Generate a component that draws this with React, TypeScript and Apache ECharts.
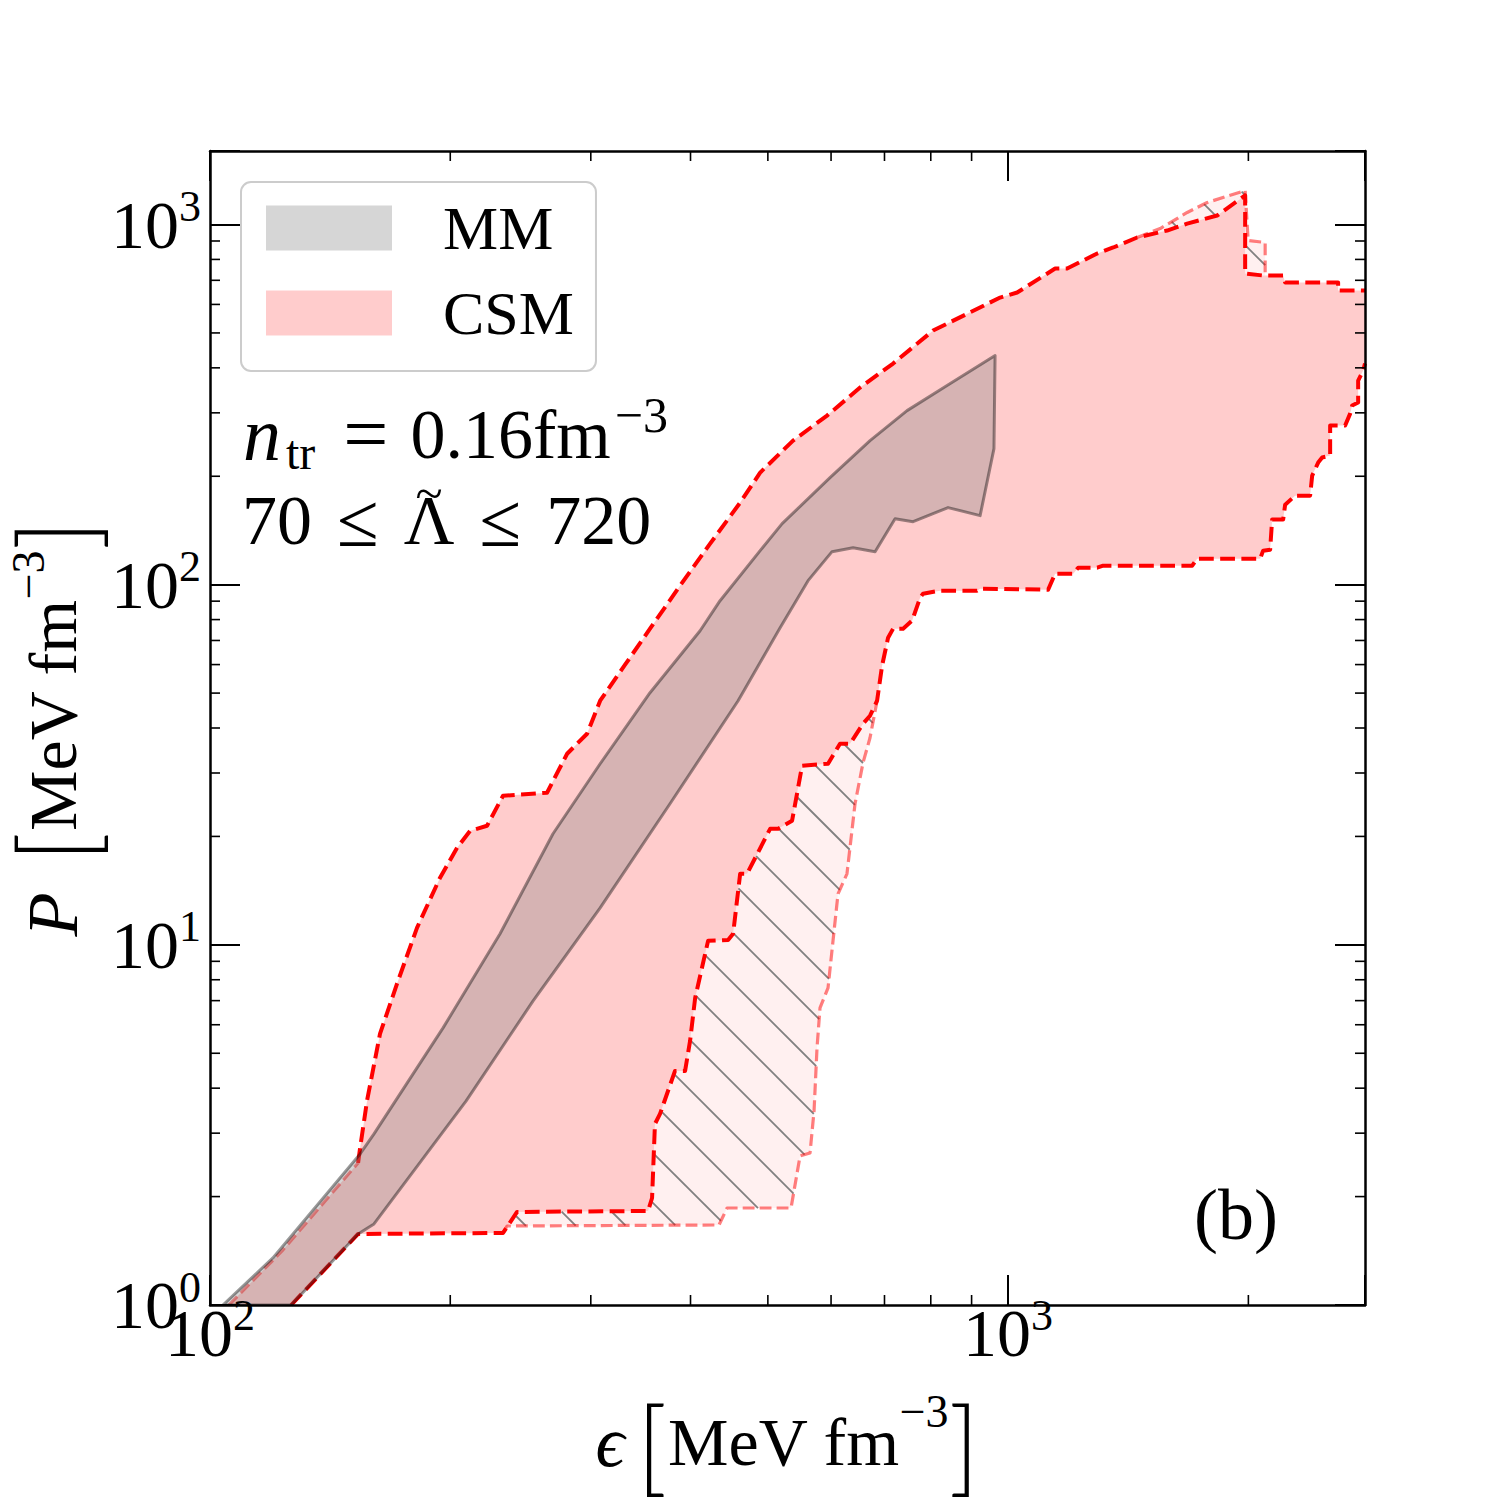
import React, { useEffect, useRef } from "react";
import * as echarts from "echarts";

type Pt = [number, number];

const SERIF = '"Liberation Serif", "Times New Roman", "DejaVu Serif", serif';
const THIN = 'Lato, "Open Sans", sans-serif';

// Axis ranges, energy density and pressure in MeV fm^-3
const EPS_MIN = 100;
const EPS_MAX = 2800;
const P_MIN = 1;
const P_MAX = 1600;

// Minor tick positions (majors come from the log axes themselves)
const minorEps = [200, 300, 400, 500, 600, 700, 800, 900, 2000];
const minorP = [2, 3, 4, 5, 6, 7, 8, 9, 20, 30, 40, 50, 60, 70, 80, 90, 200, 300, 400, 500, 600, 700, 800, 900];

// MM band: upper edge (incl. the closing right edge) and lower edge, [eps, P]
const mmUpper: Pt[] = [
  [103.8, 1.0], [119.9, 1.351], [154.2, 2.627], [160.5, 2.985], [195.9, 5.881],
  [230.9, 10.73], [269.0, 20.34], [308.2, 31.83], [355.9, 50.12], [411.2, 74.5],
  [435.6, 90.27], [489.0, 124.3], [521.0, 147.7], [598.2, 198.3], [671.4, 251.2],
  [747.1, 304.3], [838.5, 357.1], [963.1, 432.7], [960.0, 238.6],
];
const mmLower: Pt[] = [
  [126.4, 1.0], [153.3, 1.575], [160.5, 1.679], [209.4, 3.687], [254.0, 6.989],
  [308.2, 12.67], [377.0, 24.64], [458.9, 47.62], [518.0, 75.95], [561.5, 102.6],
  [601.7, 123.5], [639.3, 126.7], [681.3, 123.5], [721.7, 152.5], [760.2, 149.6],
  [840.9, 163.7], [922.4, 155.5],
];

// CSM band: low-density stretch of the upper edge, main upper edge, lower edge
const csmUpperLow: Pt[] = [[105.6, 1.0], [123.1, 1.413], [139.4, 1.944], [153.3, 2.48]];
const csmUpper: Pt[] = [
  [153.3, 2.48], [154.2, 2.73], [157.3, 3.687], [163.3, 5.658], [171.5, 7.793],
  [181.7, 11.15], [194.2, 15.36], [204.0, 18.6], [211.8, 20.73], [222.4, 21.41],
  [232.9, 25.94], [264.4, 26.44], [280.2, 33.93], [296.8, 38.56], [308.2, 47.62],
  [331.2, 59.95], [355.9, 75.47], [388.1, 99.36], [423.3, 130.0], [461.6, 169.0],
  [489.0, 204.7], [537.7, 251.2], [593.1, 294.7], [652.4, 352.6], [717.6, 411.1],
  [805.4, 507.7], [977.2, 626.9], [1026.4, 647.4], [1145.3, 754.7], [1185.7, 754.7],
  [1292.9, 830.8], [1354.1, 863.4], [1451.0, 920.3], [1581.9, 962.3], [1676.3, 1006],
  [1827.6, 1059], [1981.5, 1204], [1981.5, 730.9], [2087.0, 721.7], [2211.1, 721.7],
  [2223.8, 690.1], [2591.1, 690.1], [2591.1, 655.7], [2800, 655.7],
];
const csmLower: Pt[] = [
  [126.4, 1.0], [153.3, 1.575], [232.9, 1.585], [242.5, 1.813], [353.9, 1.824],
  [358.0, 1.982], [361.0, 3.182], [366.3, 3.392], [382.5, 4.467], [393.8, 4.467],
  [399.5, 5.412], [405.4, 7.124], [420.8, 10.26], [445.8, 10.32], [452.3, 10.73],
  [461.6, 15.75], [470.9, 15.75], [503.3, 21.0], [515.0, 21.0], [536.2, 22.11],
  [551.9, 31.42], [594.8, 31.83], [615.7, 36.16], [633.7, 36.16], [658.0, 41.11],
  [671.4, 43.27], [685.2, 47.62], [695.2, 59.6], [707.3, 71.25], [717.6, 75.47],
  [738.6, 75.47], [758.0, 79.43], [775.8, 92.02], [782.4, 94.41], [821.7, 96.23],
  [914.5, 96.23], [922.4, 97.47], [1122.3, 96.85], [1145.3, 107.3], [1206.6, 107.3],
  [1224.0, 111.5], [1292.9, 111.5], [1315.5, 112.9], [1700.8, 112.9], [1725.3, 118.1],
  [2069.1, 118.1], [2087.0, 124.3], [2129.6, 125.1], [2141.9, 151.6], [2211.1, 151.6],
  [2223.8, 166.8], [2288.8, 176.7], [2389.9, 176.7], [2404.3, 200.9], [2446.2, 218.3],
  [2474.5, 225.4], [2532.1, 228.3], [2532.1, 276.5], [2644.1, 276.5], [2682.6, 298.5],
  [2698.1, 314.3], [2745.2, 320.4], [2745.2, 368.7], [2785.2, 393.0], [2800, 411.1],
];

// Wider (hatched) band: the stretches where its edges leave the CSM edges
const looseLower: Pt[] = [
  [232.9, 1.585], [235.6, 1.657], [434.3, 1.668], [444.5, 1.859], [534.6, 1.859],
  [548.7, 2.594], [564.7, 2.644], [571.3, 3.458], [576.2, 5.174], [581.2, 6.683],
  [594.8, 7.596], [603.4, 10.26], [612.2, 13.86], [628.2, 15.75], [643.0, 24.64],
  [658.0, 32.03], [671.4, 37.58], [685.2, 47.62],
];
const loosePeak: Pt[] = [
  [1451.0, 920.3], [1550.5, 974.7], [1676.3, 1080], [1775.9, 1151], [1981.5, 1243],
  [1998.7, 902.8], [2099.3, 891.3], [2099.3, 721.7],
];

const between = (pts: Pt[], lo: number, hi: number) => pts.filter((p) => p[0] >= lo && p[0] <= hi);

const csmPolygon: Pt[] = [...csmUpperLow, ...csmUpper, ...csmLower.slice().reverse()];
const mmPolygon: Pt[] = [...mmUpper, ...mmLower.slice().reverse()];
const hatchLow: Pt[] = [
  ...looseLower,
  ...between(csmLower, looseLower[0][0], looseLower[looseLower.length - 1][0]).reverse(),
];
const hatchPeak: Pt[] = [
  ...loosePeak,
  ...between(csmUpper, loosePeak[0][0], loosePeak[loosePeak.length - 1][0]).reverse(),
];

// Diagonal "\\" hatching clipped to a pixel-space polygon
function hatchLines(pts: number[][], spacing: number) {
  let cMin = Infinity;
  let cMax = -Infinity;
  for (const [x, y] of pts) {
    cMin = Math.min(cMin, y - x);
    cMax = Math.max(cMax, y - x);
  }
  const out: any[] = [];
  for (let c = Math.ceil(cMin / spacing) * spacing; c <= cMax; c += spacing) {
    const hits: number[][] = [];
    for (let i = 0; i < pts.length; i++) {
      const a = pts[i];
      const b = pts[(i + 1) % pts.length];
      const da = a[1] - a[0] - c;
      const db = b[1] - b[0] - c;
      if (da < 0 !== db < 0) {
        const t = da / (da - db);
        hits.push([a[0] + t * (b[0] - a[0]), a[1] + t * (b[1] - a[1])]);
      }
    }
    hits.sort((p, q) => p[0] - q[0]);
    for (let k = 0; k + 1 < hits.length; k += 2) {
      out.push({
        type: "line",
        shape: { x1: hits[k][0], y1: hits[k][1], x2: hits[k + 1][0], y2: hits[k + 1][1] },
        style: { stroke: "#808080", lineWidth: 1.8 },
      });
    }
  }
  return out;
}

const tickLabel = (v: number) => {
  const lg = Math.log10(v);
  const e = Math.round(lg);
  return Math.abs(lg - e) < 1e-6 ? `{b|10}{s|${e}}` : "";
};
const tickRich = {
  b: { fontFamily: SERIF, fontSize: 68, lineHeight: 68, color: "#000" },
  s: { fontFamily: SERIF, fontSize: 44, lineHeight: 44, padding: [0, 0, 36, 0], color: "#000" },
};
const nameRich = (supLift: number, symbolGap: number) => ({
  i: { fontFamily: SERIF, fontStyle: "italic", fontSize: 72, lineHeight: 72, padding: [0, symbolGap, 0, 0], color: "#000" },
  m: { fontFamily: SERIF, fontSize: 68, lineHeight: 68, color: "#000" },
  br: { fontFamily: THIN, fontWeight: 300, fontSize: 104, lineHeight: 104, color: "#000" },
  s: { fontFamily: SERIF, fontSize: 46, lineHeight: 46, padding: [0, 0, supLift, 0], color: "#000" },
});

const frameLine = { show: true, onZero: false, lineStyle: { color: "#000", width: 2.5 } };
const majorTick = { show: true, inside: true, length: 30, lineStyle: { color: "#000", width: 2 } };

const dashed = (name: string, data: Pt[], color: string, width: number, z: number) => ({
  type: "line",
  name,
  data,
  z,
  silent: true,
  showSymbol: false,
  symbol: "none",
  clip: true,
  lineStyle: { color, width, type: [3.7 * width, 1.6 * width], cap: "butt", join: "round" },
});

const toPx = (api: any, pts: Pt[]) => pts.map((p) => api.coord(p));

const option: any = {
  animation: false,
  backgroundColor: "#ffffff",
  textStyle: { fontFamily: SERIF },
  grid: { left: 210, top: 151, right: 135, bottom: 195, containLabel: false, outerBoundsMode: "none" },
  legend: {
    left: 241,
    top: 182,
    orient: "vertical",
    padding: [15, 22, 27, 25],
    itemWidth: 126,
    itemHeight: 45,
    itemGap: 23,
    selectedMode: false,
    backgroundColor: "rgba(255,255,255,0.8)",
    borderColor: "#cccccc",
    borderWidth: 2,
    borderRadius: 10,
    z: 20,
    textStyle: {
      fontFamily: SERIF,
      fontSize: 62,
      lineHeight: 45,
      height: 45,
      padding: [0, 0, 0, 46],
      color: "#000",
    },
    data: [
      { name: "MM", icon: "rect", itemStyle: { color: "rgba(128,128,128,0.32)", borderWidth: 0 } },
      { name: "CSM", icon: "rect", itemStyle: { color: "rgba(255,0,0,0.2)", borderWidth: 0 } },
    ],
  },
  xAxis: [
    {
      type: "log",
      logBase: 10,
      min: EPS_MIN,
      max: EPS_MAX,
      position: "bottom",
      z: 10,
      axisLine: frameLine,
      axisTick: majorTick,
      splitLine: { show: false },
      axisLabel: { formatter: tickLabel, rich: tickRich, margin: -6 },
      name: "{i|\u03f5}{br|[}{m|MeV fm}{s|\u22123}{br|]}",
      nameLocation: "middle",
      nameGap: 85,
      nameTextStyle: { fontFamily: SERIF, fontSize: 68, color: "#000", rich: nameRich(62, 12) },
    },
    {
      type: "log",
      logBase: 10,
      min: EPS_MIN,
      max: EPS_MAX,
      position: "top",
      z: 10,
      axisLine: frameLine,
      axisTick: majorTick,
      splitLine: { show: false },
      axisLabel: { show: false },
    },
  ],
  yAxis: [
    {
      type: "log",
      logBase: 10,
      min: P_MIN,
      max: P_MAX,
      position: "left",
      z: 10,
      axisLine: frameLine,
      axisTick: majorTick,
      splitLine: { show: false },
      axisLabel: { formatter: tickLabel, rich: tickRich, margin: 9 },
      name: "{i|P}{br|[}{m|MeV fm}{s|\u22123}{br|]}",
      nameLocation: "middle",
      nameRotate: 90,
      nameGap: 105,
      nameMoveOverlap: false,
      nameTextStyle: { fontFamily: SERIF, fontSize: 68, color: "#000", rich: nameRich(50, 30) },
    },
    {
      type: "log",
      logBase: 10,
      min: P_MIN,
      max: P_MAX,
      position: "right",
      z: 10,
      axisLine: frameLine,
      axisTick: majorTick,
      splitLine: { show: false },
      axisLabel: { show: false },
    },
  ],
  series: [
    {
      type: "custom",
      name: "hatched",
      z: 1,
      silent: true,
      clip: true,
      data: [hatchLow[0]],
      renderItem: (_params: any, api: any) => {
        const children: any[] = [];
        for (const poly of [hatchLow, hatchPeak]) {
          const px = toPx(api, poly);
          children.push({ type: "polygon", shape: { points: px }, style: { fill: "rgba(255,0,0,0.06)" } });
          children.push(...hatchLines(px, 50));
        }
        return { type: "group", children };
      },
    },
    {
      type: "custom",
      name: "CSM",
      z: 2,
      silent: true,
      clip: true,
      data: [csmPolygon[0]],
      renderItem: (_params: any, api: any) => ({
        type: "polygon",
        shape: { points: toPx(api, csmPolygon) },
        style: { fill: "rgba(255,0,0,0.2)" },
      }),
    },
    dashed("CSM upper", csmUpper, "#ff0000", 4, 3),
    dashed("CSM lower", csmLower, "#ff0000", 4, 3),
    dashed("CSM upper low", csmUpperLow, "rgba(255,0,0,0.5)", 3.2, 4),
    dashed("wide lower", looseLower, "rgba(255,0,0,0.5)", 3.2, 4),
    dashed("wide upper", loosePeak, "rgba(255,0,0,0.5)", 3.2, 4),
    {
      type: "custom",
      name: "MM",
      z: 5,
      silent: true,
      clip: true,
      data: [mmPolygon[0]],
      renderItem: (_params: any, api: any) => ({
        type: "polygon",
        shape: { points: toPx(api, mmPolygon) },
        style: { fill: "rgba(128,128,128,0.32)", stroke: "rgba(0,0,0,0.4)", lineWidth: 3, lineJoin: "round" },
      }),
    },
    {
      type: "custom",
      name: "minor ticks",
      z: 11,
      silent: true,
      clip: false,
      data: [[EPS_MIN, P_MIN]],
      renderItem: (params: any, api: any) => {
        const cs = params.coordSys;
        const top = cs.y;
        const bottom = cs.y + cs.height;
        const left = cs.x;
        const right = cs.x + cs.width;
        const st = { stroke: "#000", lineWidth: 1.6 };
        const seg = (x1: number, y1: number, x2: number, y2: number) => ({
          type: "line",
          shape: { x1, y1, x2, y2 },
          style: st,
        });
        const children: any[] = [];
        for (const v of minorEps) {
          const x = api.coord([v, P_MIN])[0];
          children.push(seg(x, bottom, x, bottom - 10), seg(x, top, x, top + 10));
        }
        for (const v of minorP) {
          const y = api.coord([EPS_MIN, v])[1];
          children.push(seg(left, y, left + 10, y), seg(right, y, right - 10, y));
        }
        return { type: "group", children };
      },
    },
  ],
  graphic: [
    {
      type: "text",
      x: 243,
      y: 434,
      z: 20,
      style: {
        text: "{n|n}{sub|tr}{eq|=}{m|0.16fm}{sup|\u22123}",
        align: "left",
        textAlign: "left",
        verticalAlign: "middle",
        textVerticalAlign: "middle",
        rich: {
          n: { fontFamily: SERIF, fontStyle: "italic", fontSize: 76, lineHeight: 76, fill: "#000" },
          sub: { fontFamily: SERIF, fontSize: 48, lineHeight: 48, padding: [36, 0, 0, 5], fill: "#000" },
          eq: { fontFamily: SERIF, fontSize: 80, lineHeight: 80, padding: [0, 22, 0, 28], fill: "#000" },
          m: { fontFamily: SERIF, fontSize: 70, lineHeight: 70, fill: "#000" },
          sup: { fontFamily: SERIF, fontSize: 50, lineHeight: 50, padding: [0, 0, 38, 4], fill: "#000" },
        },
      },
    },
    {
      type: "text",
      x: 242,
      y: 520,
      z: 20,
      style: {
        text: "{d|70}{op|\u2264}{d|\u039b}{op|\u2264}{d|720}",
        align: "left",
        textAlign: "left",
        verticalAlign: "middle",
        textVerticalAlign: "middle",
        rich: {
          d: { fontFamily: SERIF, fontSize: 70, lineHeight: 70, fill: "#000" },
          op: { fontFamily: SERIF, fontSize: 76, lineHeight: 76, padding: [0, 25, 0, 25], fill: "#000" },
        },
      },
    },
    {
      // tilde accent over the Lambda
      type: "text",
      x: 429,
      y: 493,
      z: 20,
      style: {
        text: "~",
        fontFamily: SERIF,
        fontSize: 50,
        fill: "#000",
        align: "center",
        textAlign: "center",
        verticalAlign: "middle",
        textVerticalAlign: "middle",
      },
    },
    {
      type: "text",
      x: 1236,
      y: 1215,
      z: 20,
      style: {
        text: "(b)",
        fontFamily: SERIF,
        fontSize: 72,
        fill: "#000",
        align: "center",
        textAlign: "center",
        verticalAlign: "middle",
        textVerticalAlign: "middle",
      },
    },
  ],
};

export default function App() {
  const ref = useRef<HTMLDivElement>(null);
  useEffect(() => {
    const chart = echarts.init(ref.current as HTMLDivElement, null, { renderer: "svg" });
    chart.setOption(option);
    return () => chart.dispose();
  }, []);
  return (
    <div
      ref={ref}
      style={{ position: "absolute", left: 0, top: 0, width: 1500, height: 1500, background: "#ffffff" }}
    />
  );
}
